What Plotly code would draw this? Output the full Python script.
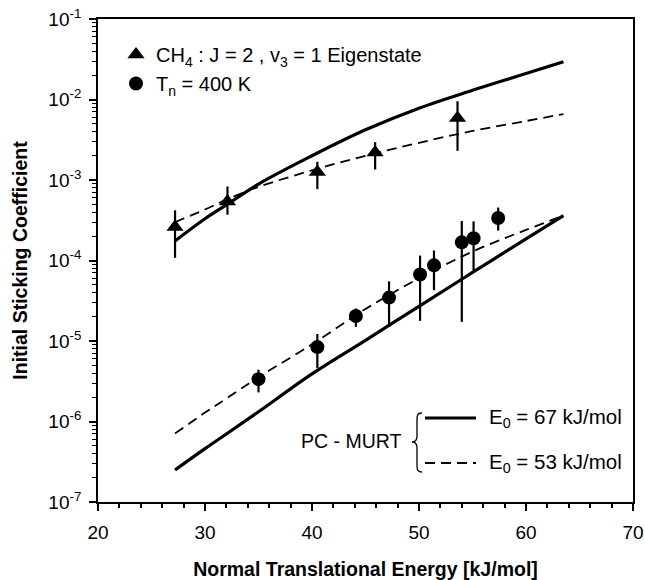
import plotly.graph_objects as go

# ---------------- data ----------------
tri_x = [27.2, 32.1, 40.5, 45.9, 53.6]
tri_y = [2.6e-4, 5.4e-4, 1.26e-3, 2.19e-3, 5.9e-3]
tri_hi = [4.2e-4, 8.3e-4, 1.68e-3, 2.95e-3, 9.5e-3]
tri_lo = [1.08e-4, 3.7e-4, 7.7e-4, 1.35e-3, 2.3e-3]

circ_x = [35.0, 40.5, 44.1, 47.2, 50.1, 51.4, 54.0, 55.1, 57.4]
circ_y = [3.36e-6, 8.4e-6, 2.04e-5, 3.46e-5, 6.7e-5, 8.7e-5, 1.68e-4, 1.89e-4, 3.37e-4]
circ_hi = [4.4e-6, 1.22e-5, 2.53e-5, 5.5e-5, 1.15e-4, 1.33e-4, 3.1e-4, 3.06e-4, 4.55e-4]
circ_lo = [2.3e-6, 4.6e-6, 1.5e-5, 1.5e-5, 1.78e-5, 4.27e-5, 1.73e-5, 7.5e-5, 2.35e-4]

model_E = [27.2, 30, 32, 35, 40, 45, 50, 55, 60, 63.5]
eig_E67 = [1.75e-4, 3.3e-4, 4.9e-4, 8.9e-4, 2.0e-3, 4.2e-3, 7.8e-3, 1.3e-2, 2.1e-2, 2.95e-2]
eig_E53 = [3.0e-4, 4.3e-4, 5.7e-4, 8.2e-4, 1.32e-3, 2.0e-3, 2.9e-3, 4.07e-3, 5.4e-3, 6.6e-3]
th_E67 = [2.5e-7, 4.6e-7, 7.0e-7, 1.32e-6, 3.9e-6, 1.02e-5, 2.7e-5, 7.1e-5, 1.86e-4, 3.6e-4]
th_E53 = [7.1e-7, 1.29e-6, 1.93e-6, 3.55e-6, 9.1e-6, 2.5e-5, 6.0e-5, 1.29e-4, 2.4e-4, 3.6e-4]

x_ticks = [20, 30, 40, 50, 60, 70]
y_exps = [-7, -6, -5, -4, -3, -2, -1]

# ---------------- layout geometry ----------------
W, H = 645, 580
L, R, T, B = 98, 12, 19, 78
PW, PH = W - L - R, H - T - B
FONT = "Liberation Sans, Arial, Helvetica, sans-serif"
DASH = "10px,6px"


def px(xp):
    return (xp - L) / PW


def py(yp):
    return (H - B - yp) / PH


fig = go.Figure()

# model curves
line_solid = dict(color="black", width=3.2, shape="spline")
line_dash = dict(color="black", width=1.8, dash=DASH, shape="spline")
for ys in (eig_E67, th_E67):
    fig.add_trace(go.Scatter(x=model_E, y=ys, mode="lines", line=line_solid,
                             showlegend=False, hoverinfo="skip"))
for ys in (eig_E53, th_E53):
    fig.add_trace(go.Scatter(x=model_E, y=ys, mode="lines", line=line_dash,
                             showlegend=False, hoverinfo="skip"))

# experimental data
fig.add_trace(go.Scatter(
    x=tri_x, y=tri_y, mode="markers",
    name="CH<sub>4</sub> : J = 2 , v<sub>3</sub> = 1 Eigenstate",
    marker=dict(symbol="triangle-up", size=15, color="black"),
    error_y=dict(type="data", symmetric=False,
                 array=[h - v for h, v in zip(tri_hi, tri_y)],
                 arrayminus=[v - l for v, l in zip(tri_y, tri_lo)],
                 color="black", thickness=2.2, width=0),
))
fig.add_trace(go.Scatter(
    x=circ_x, y=circ_y, mode="markers",
    name="T<sub>n</sub> = 400 K",
    marker=dict(symbol="circle", size=14, color="black"),
    error_y=dict(type="data", symmetric=False,
                 array=[h - v for h, v in zip(circ_hi, circ_y)],
                 arrayminus=[v - l for v, l in zip(circ_y, circ_lo)],
                 color="black", thickness=2.2, width=0),
))

minor_y = [m * 10 ** e for e in range(-7, -1) for m in range(2, 10)]

fig.update_xaxes(
    range=[20, 70], tickvals=x_ticks, ticktext=[str(v) for v in x_ticks],
    ticks="outside", ticklen=7, tickwidth=1.5, tickcolor="black",
    minor=dict(dtick=2, ticks="outside", ticklen=4, tickwidth=1.5, tickcolor="black"),
    showline=True, linecolor="black", linewidth=1.8, mirror=True,
    showgrid=False, zeroline=False,
    tickfont=dict(family=FONT, size=19, color="black"),
    ticklabelstandoff=5,
    title=dict(text="<b>Normal Translational Energy [kJ/mol]</b>",
               font=dict(family=FONT, size=19.5, color="black"), standoff=25),
)
fig.update_yaxes(
    type="log", range=[-7, -1],
    tickvals=[10 ** e for e in y_exps],
    ticktext=["10<sup>%d</sup>" % e for e in y_exps],
    ticks="outside", ticklen=7, tickwidth=1.5, tickcolor="black",
    minor=dict(tickmode="array", tickvals=minor_y, ticks="outside", ticklen=4,
               tickwidth=1.2, tickcolor="black"),
    showline=True, linecolor="black", linewidth=1.8, mirror=True,
    showgrid=False, zeroline=False,
    tickfont=dict(family=FONT, size=19, color="black"),
    ticklabelstandoff=4,
    title=dict(text="<b>Initial Sticking Coefficient</b>",
               font=dict(family=FONT, size=19.5, color="black"), standoff=16),
)

# PC-MURT key (drawn as annotation + shapes)
brace_pts = [(422, 413), (417, 413), (417, 416), (417, 420), (417, 436),
             (417, 440), (415, 442), (412, 442), (415, 442), (417, 444),
             (417, 448), (417, 465), (417, 469), (417, 472), (422, 472)]
P = [(px(a), py(b)) for a, b in brace_pts]
path = "M %f,%f C %f,%f %f,%f %f,%f L %f,%f C %f,%f %f,%f %f,%f C %f,%f %f,%f %f,%f L %f,%f C %f,%f %f,%f %f,%f" % tuple(
    c for p in P for c in p)
shapes = [
    dict(type="path", path=path, xref="paper", yref="paper",
         line=dict(color="black", width=1.3)),
    dict(type="line", xref="paper", yref="paper", x0=px(425), x1=px(476),
         y0=py(418), y1=py(418), line=dict(color="black", width=3.2)),
    dict(type="line", xref="paper", yref="paper", x0=px(425), x1=px(476),
         y0=py(463), y1=py(463), line=dict(color="black", width=1.8, dash=DASH)),
]
annotations = [
    dict(text="PC - MURT", x=px(403), y=py(441), xref="paper", yref="paper",
         xanchor="right", yanchor="middle", showarrow=False,
         font=dict(family=FONT, size=19.5, color="black")),
    dict(text="E<sub>0</sub> = 67 kJ/mol", x=px(487), y=py(418), xref="paper", yref="paper",
         xanchor="left", yanchor="middle", showarrow=False,
         font=dict(family=FONT, size=20.5, color="black")),
    dict(text="E<sub>0</sub> = 53 kJ/mol", x=px(487), y=py(463), xref="paper", yref="paper",
         xanchor="left", yanchor="middle", showarrow=False,
         font=dict(family=FONT, size=20.5, color="black")),
]

fig.update_layout(
    width=W, height=H,
    margin=dict(l=L, r=R, t=T, b=B, autoexpand=False),
    paper_bgcolor="white", plot_bgcolor="white",
    font=dict(family=FONT, size=19, color="black"),
    showlegend=True,
    legend=dict(x=px(116), y=py(35), xanchor="left", yanchor="top",
                bgcolor="rgba(0,0,0,0)", borderwidth=0,
                font=dict(family=FONT, size=20, color="black"),
                itemwidth=30, tracegroupgap=0),
    shapes=shapes, annotations=annotations,
)

fig.write_html("out.html")
